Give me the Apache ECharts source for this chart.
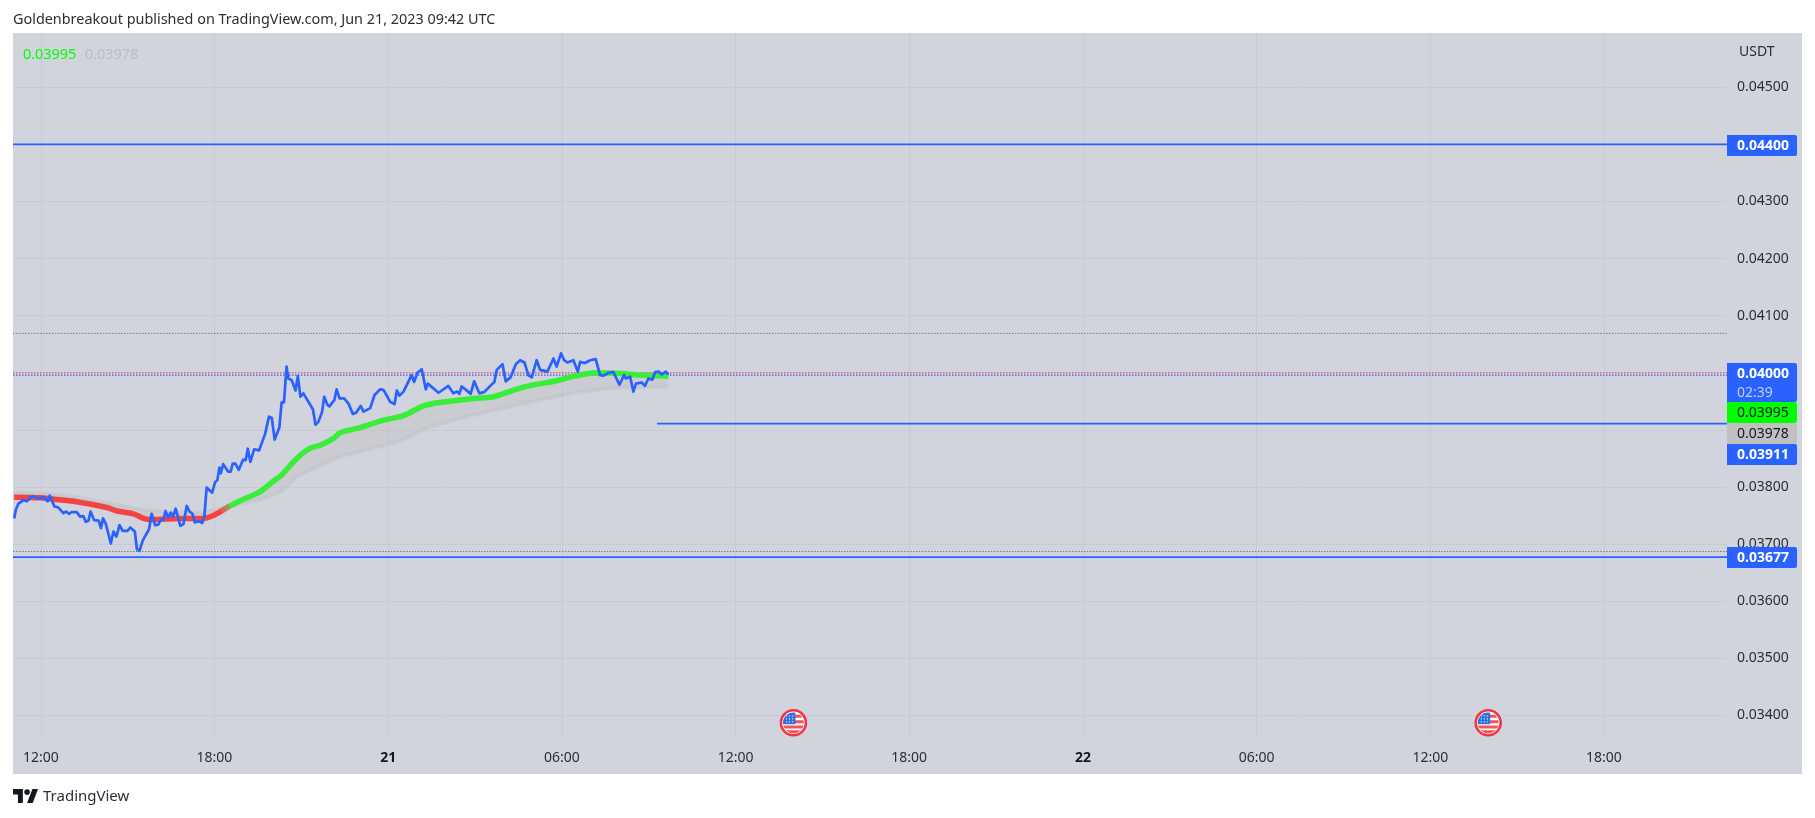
<!DOCTYPE html>
<html><head><meta charset="utf-8">
<style>html,body{margin:0;padding:0;background:#fff}#c{width:1815px;height:818px}</style>
<script src="https://cdn.jsdelivr.net/npm/echarts@6/dist/echarts.min.js"></script>
</head><body><div id="c"></div>
<script>
// Time is hours since Jun 20 00:00 UTC
const priceHours=[11.08,11.14,11.23,11.40,11.52,11.71,11.84,11.98,12.09,12.24,12.31,12.47,12.61,12.78,12.87,12.97,13.07,13.24,13.36,13.47,13.55,13.65,13.72,13.84,14.00,14.08,14.15,14.25,14.42,14.51,14.61,14.72,14.83,14.99,15.09,15.25,15.32,15.41,15.52,15.74,15.83,15.95,16.06,16.14,16.24,16.31,16.40,16.49,16.57,16.66,16.82,16.93,17.04,17.14,17.24,17.32,17.47,17.58,17.65,17.73,17.92,18.02,18.10,18.17,18.22,18.30,18.47,18.56,18.63,18.72,18.84,18.99,19.08,19.15,19.24,19.37,19.54,19.75,19.88,19.98,20.08,20.24,20.32,20.40,20.49,20.55,20.67,20.80,20.88,20.97,21.07,21.40,21.49,21.59,21.72,21.79,21.90,21.97,22.14,22.22,22.32,22.48,22.63,22.78,22.89,23.05,23.15,23.38,23.53,23.72,23.84,24.07,24.22,24.30,24.39,24.53,24.81,24.90,25.01,25.16,25.30,25.37,25.74,26.08,26.25,26.39,26.46,26.54,26.69,26.85,26.97,27.15,27.31,27.67,27.75,27.95,28.06,28.23,28.41,28.56,28.71,28.84,28.96,29.13,29.25,29.50,29.71,29.82,29.97,30.08,30.19,30.40,30.55,30.63,30.80,30.98,31.17,31.32,31.44,31.61,31.78,31.99,32.15,32.21,32.36,32.47,32.56,32.76,32.87,32.99,33.13,33.22,33.34,33.45,33.59,33.68];
const priceValues=[.03745,.03760,.03771,.03777,.03775,.03784,.03781,.03780,.03783,.03775,.03785,.03766,.03764,.03754,.03757,.03753,.03756,.03756,.03748,.03749,.03739,.03741,.03757,.03742,.03741,.03728,.03745,.03735,.03701,.03722,.03713,.03733,.03723,.03723,.03729,.03722,.03691,.03688,.03706,.03726,.03753,.03733,.03734,.03742,.03743,.03758,.03746,.03755,.03748,.03762,.03732,.03735,.03767,.03757,.03753,.03738,.03740,.03737,.03748,.03799,.03790,.03808,.03812,.03834,.03824,.03840,.03827,.03827,.03841,.03841,.03830,.03848,.03847,.03867,.03844,.03866,.03864,.03893,.03923,.03921,.03883,.03904,.03948,.03948,.04011,.03990,.03987,.03969,.03994,.03958,.03964,.03936,.03909,.03914,.03932,.03958,.03944,.03941,.03952,.03971,.03955,.03955,.03946,.03928,.03930,.03942,.03932,.03938,.03961,.03971,.03970,.03949,.03945,.03969,.03960,.03967,.03996,.03984,.04000,.04006,.03971,.03981,.03965,.03977,.03964,.03967,.03963,.03976,.03970,.03963,.03985,.03964,.03966,.03984,.04005,.04015,.03985,.03992,.04015,.04022,.04018,.03996,.03992,.04022,.04005,.04002,.04025,.04011,.04034,.04022,.04018,.04022,.04002,.04019,.04017,.04022,.04024,.03996,.03995,.04000,.04001,.03979,.03996,.03990,.03993,.03967,.03981,.03983,.03977,.03990,.03988,.04001,.04002,.03997,.04002,.03997];
const fastHours=[11.08,11.98,12.55,13.24,14.28,14.63,15.20,15.55,15.78,16.35,16.93,17.62,17.96,18.25,18.54,18.89,19.58,19.98,20.32,20.67,21.07,21.36,21.65,22.11,22.34,23.03,23.84,24.53,25.22,25.79,26.94,27.64,28.67,29.82,30.40,31.20,31.90,32.70,33.68];
const fastValues=[.03782,.03781,.03778,.03774,.03764,.03758,.03753,.03745,.03743,.03744,.03745,.03745,.03750,.03758,.03767,.03776,.03792,.03808,.03821,.03841,.03860,.03869,.03873,.03885,.03895,.03904,.03917,.03925,.03942,.03948,.03955,.03958,.03975,.03986,.03994,.04000,.03999,.03996,.03994];
const slowHours=[11.08,12.32,13.47,14.39,15.55,16.35,17.48,18.19,18.65,19.58,20.38,20.84,21.65,22.34,23.03,24.53,25.33,26.94,28.67,30.40,31.20,32.12,33.68];
const slowValues=[.03790,.03788,.03780,.03771,.03760,.03756,.03755,.03763,.03768,.03778,.03795,.03818,.03837,.03853,.03862,.03883,.03903,.03926,.03946,.03964,.03970,.03974,.03976];
const redEndIndex=13, fadeEndIndex=14;
const solidLevels=[.04400,.03677];
const supportLevel=.03911, supportStart=33.29;
const dottedGrey=[.04069,.03687];
const dottedRed=.04000, dottedBlue=.03996;
const eventHours=[38,62], eventPrice=.03387;
const priceTicks=[.034,.035,.036,.037,.038,.039,.040,.041,.042,.043,.044,.045];
const timeTicks=[12,18,24,30,36,42,48,54,60,66];
const timeTickLabels=['12:00','18:00','21','06:00','12:00','18:00','22','06:00','12:00','18:00'];
const boldTicks=['21','22'];
const tags=[
 {top:135,h:21,text:'0.04400',bg:'#2962ff',fg:'#fff',bold:true},
 {top:363,h:39,text:'0.04000',sub:'02:39',bg:'#2962ff',fg:'#fff',bold:true},
 {top:402,h:21,text:'0.03995',bg:'#00ff00',fg:'#131722'},
 {top:423,h:21,text:'0.03978',bg:'#c0c0c0',fg:'#131722'},
 {top:444,h:21,text:'0.03911',bg:'#2962ff',fg:'#fff',bold:true},
 {top:547,h:21,text:'0.03677',bg:'#2962ff',fg:'#fff',bold:true}
];
const titleText='Goldenbreakout published on TradingView.com, Jun 21, 2023 09:42 UTC';
const FONT='"Noto Sans"', BLUE='#2962ff', GRID='#c8cbd4';
const XMIN=11.04, XMAX=70.25, YMIN=.033604, YMAX=.04595;
const zip=(a,b)=>a.map((x,i)=>[x,b[i]]);
const hline=(v,color,type,width,from)=>({type:'line',symbol:'none',silent:true,animation:false,clip:true,z:3,
  data:[[from==null?XMIN:from,v],[XMAX,v]],lineStyle:{color,type,width}});
const fast=zip(fastHours,fastValues), slow=zip(slowHours,slowValues);
const lx=u=>13+u*0.704, ly=u=>789+(u-4)*0.78;
const logoPoly=pts=>({type:'polygon',z:10,silent:true,shape:{points:pts.map(([a,b])=>[lx(a),ly(b)])},style:{fill:'#131722'}});
const graphics=[
 {type:'rect',z:-10,silent:true,shape:{x:13,y:33,width:1789,height:741},style:{fill:'#d1d4dc'}},
 {type:'text',z:10,style:{x:13,y:20,text:titleText,fill:'#2e2e2e',font:'14.4px '+FONT,textVerticalAlign:'middle'}},
 {type:'text',z:10,style:{x:23,y:55,text:'0.03995',fill:'#00ff00',font:'14.4px '+FONT,textVerticalAlign:'middle'}},
 {type:'text',z:10,style:{x:85,y:55,text:'0.03978',fill:'#bdbdbd',font:'14.4px '+FONT,textVerticalAlign:'middle'}},
 {type:'text',z:10,style:{x:1739,y:52,text:'USDT',fill:'#2a2e39',font:'14px '+FONT,textVerticalAlign:'middle'}},
 logoPoly([[0,4],[14,4],[14,22],[7,22],[7,11],[0,11]]),
 logoPoly([[20,22],[28,22],[35.5,4],[27.5,4]]),
 {type:'circle',z:10,silent:true,shape:{cx:lx(20),cy:ly(8),r:2.8},style:{fill:'#131722'}},
 {type:'text',z:10,style:{x:43,y:796.5,text:'TradingView',fill:'#2a2e39',font:'15px '+FONT,textVerticalAlign:'middle'}}
];
tags.forEach(t=>{
 graphics.push({type:'rect',z:20,shape:{x:1727,y:t.top,width:70,height:t.h,r:[0,2,2,0]},style:{fill:t.bg}});
 graphics.push({type:'text',z:21,style:{x:1737,y:t.top+11.5,text:t.text,fill:t.fg,font:(t.bold?'bold ':'')+'14px '+FONT,textVerticalAlign:'middle'}});
 if(t.sub)graphics.push({type:'text',z:21,style:{x:1737,y:t.top+30,text:t.sub,fill:'#c3d1ff',font:'14px '+FONT,textVerticalAlign:'middle'}});
});
const opt={
 animation:false,backgroundColor:'#fff',
 grid:{left:13,right:88,top:33,bottom:80,containLabel:false},
 graphic:{elements:graphics},
 xAxis:{type:'value',min:XMIN,max:XMAX,
  axisLine:{show:false},axisTick:{show:false,customValues:timeTicks},
  splitLine:{show:true,lineStyle:{color:GRID,width:1}},
  axisLabel:{customValues:timeTicks,margin:13,fontFamily:FONT,fontSize:14,color:'#2a2e39',hideOverlap:false,showMinLabel:true,showMaxLabel:true,
   formatter:v=>{const s=timeTickLabels[timeTicks.indexOf(v)]||'';return boldTicks.includes(s)?'{b|'+s+'}':s;},
   rich:{b:{fontWeight:'bold',fontFamily:FONT,fontSize:14,color:'#131722'}}}},
 yAxis:{type:'value',position:'right',min:YMIN,max:YMAX,
  axisLine:{show:false},axisTick:{show:false,customValues:priceTicks},
  splitLine:{show:true,lineStyle:{color:GRID,width:1}},
  axisLabel:{customValues:priceTicks,margin:10,fontFamily:FONT,fontSize:14,color:'#2a2e39',padding:[2,0,0,0],formatter:v=>v.toFixed(5)}},
 series:[
  {type:'custom',silent:true,z:1,coordinateSystem:'cartesian2d',data:[[XMIN,YMIN]],encode:{x:0,y:1},
   renderItem:(p,api)=>({type:'polygon',shape:{points:fast.concat(slow.slice().reverse()).map(d=>api.coord(d))},style:{fill:'rgba(186,186,188,.32)'}})},
  {type:'line',symbol:'none',silent:true,z:2,smooth:.3,data:slow,lineStyle:{color:'rgba(192,192,192,.45)',width:4}},
  hline(dottedGrey[0],'#787b86',[1.5,1.5],1),
  hline(dottedGrey[1],'#787b86',[1.5,1.5],1),
  hline(dottedRed,'#f23645',[1.5,1.5],1.2),
  hline(dottedBlue,BLUE,[1.5,1.5],1.2),
  hline(solidLevels[0],BLUE,'solid',1.8),
  hline(solidLevels[1],BLUE,'solid',1.8),
  hline(supportLevel,BLUE,'solid',1.8,supportStart),
  {type:'line',symbol:'none',silent:true,z:4,smooth:.3,data:fast.slice(0,redEndIndex+1),lineStyle:{color:'#f44343',width:5.5}},
  {type:'line',symbol:'none',silent:true,z:4,data:fast.slice(redEndIndex,fadeEndIndex+1),
   lineStyle:{width:5.5,color:new echarts.graphic.LinearGradient(0,0,1,0,[{offset:0,color:'#f44343'},{offset:1,color:'#6fc766'}])}},
  {type:'line',symbol:'none',silent:true,z:4,smooth:.3,data:fast.slice(fadeEndIndex),lineStyle:{color:'#39ee39',width:5.5}},
  {type:'line',symbol:'none',silent:true,z:5,data:zip(priceHours,priceValues),lineStyle:{color:BLUE,width:2.7,join:'round'}},
  {type:'custom',silent:true,z:6,coordinateSystem:'cartesian2d',data:eventHours.map(h=>[h,eventPrice]),encode:{x:0,y:1},clip:false,
   renderItem:(p,api)=>{
    const [cx,cy]=api.coord([api.value(0),api.value(1)]);
    const r=10.5, clip={type:'circle',shape:{cx,cy,r}};
    const kids=[{type:'circle',shape:{cx,cy,r:12.5},style:{fill:'#fff',stroke:'#f23645',lineWidth:2.6}}];
    [[-2.5,3],[2.7,3],[7.5,3.6]].forEach(([o,h])=>kids.push({type:'rect',clipPath:clip,shape:{x:cx-r,y:cy+o,width:2*r,height:h},style:{fill:'#f4535c'}}));
    kids.push({type:'rect',clipPath:clip,shape:{x:cx-r,y:cy-8,width:2*r,height:3},style:{fill:'#f4535c'}});
    kids.push({type:'rect',clipPath:clip,shape:{x:cx-r,y:cy-r,width:r+2,height:r+1.5},style:{fill:'#2f6fe0'}});
    for(let i=0;i<3;i++)for(let j=0;j<3;j++)kids.push({type:'rect',clipPath:clip,shape:{x:cx-7.5+i*3,y:cy-7.5+j*3,width:1.2,height:1.2},style:{fill:'#cfe0ff'}});
    return {type:'group',children:kids};
   }}
 ]
};
echarts.init(document.getElementById('c'),null,{renderer:'canvas'}).setOption(opt);
</script></body></html>
